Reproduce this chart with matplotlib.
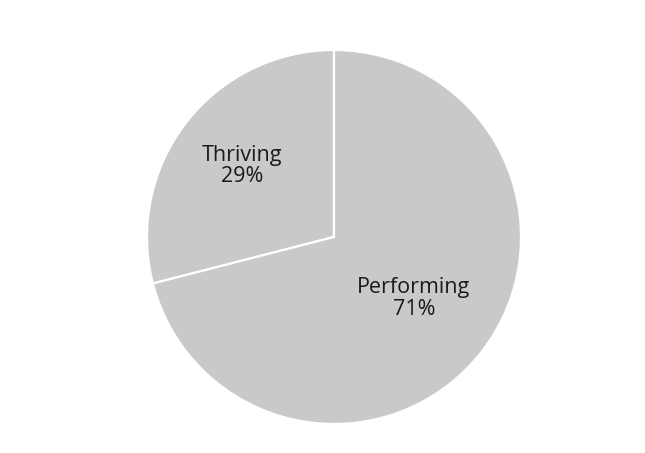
import numpy as np
import matplotlib
matplotlib.use("Agg")
import matplotlib.pyplot as plt

categories = ["Thriving", "Performing"]
values = [29, 71]
label_dist = [0.62, 0.54]
colors = ["#c9c9c9", "#c9c9c9"]

plt.rcParams['font.family'] = ['Open Sans', 'DejaVu Sans']

fig = plt.figure(figsize=(6.45, 4.53), dpi=100)
ax = fig.add_axes([147/645, (453-424)/453, 374/645, 374/453])
wedges, _ = ax.pie(values, startangle=90, colors=colors, radius=1.0,
                   wedgeprops=dict(edgecolor="white", linewidth=1.6))
for w, cat, val, d in zip(wedges, categories, values, label_dist):
    ang = np.deg2rad((w.theta1 + w.theta2) / 2)
    ax.text(d*np.cos(ang), d*np.sin(ang), f"{cat}\n{val}%", ha="center", va="center",
            fontsize=15.5, color="#1a1a1a", linespacing=1.05)
ax.set_xlim(-1, 1)
ax.set_ylim(-1, 1)
ax.set_aspect("equal")
ax.axis("off")
fig.savefig("out.png", dpi=100, facecolor="white")
